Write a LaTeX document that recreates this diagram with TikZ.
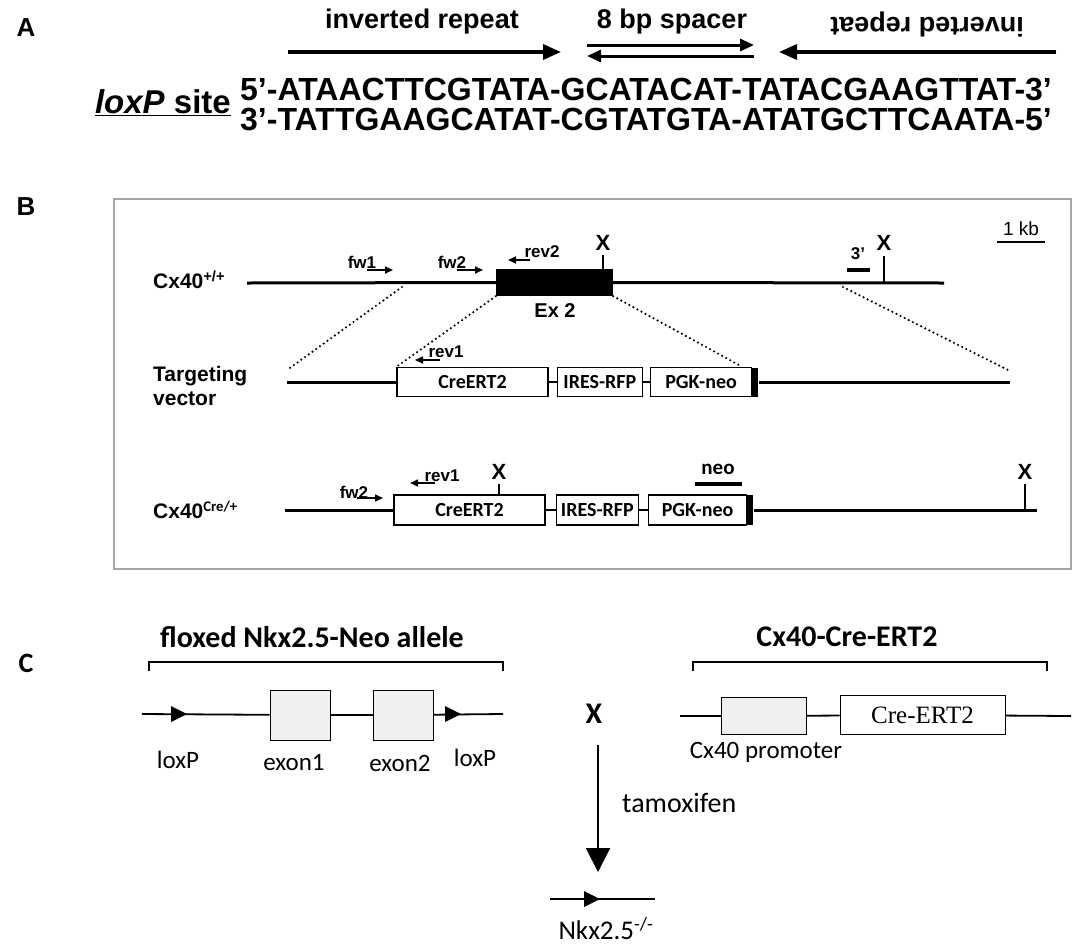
\documentclass[tikz,border=0pt]{standalone}
\usepackage{fontspec}
\setmainfont{Liberation Sans}
\newfontfamily\carl{Carlito}
\newfontfamily\tnr{Liberation Serif}
\usetikzlibrary{arrows.meta,positioning,calc}
\newcommand{\fs}[1]{\fontsize{#1}{#1}\selectfont}

\begin{document}
\begin{tikzpicture}[x=1pt,y=-1pt,
panel/.style={font=\fs{26}\bfseries,inner sep=0},
head/.style={font=\fs{27}\bfseries,inner sep=0},
seq/.style={font=\fs{32}\bfseries,anchor=base west,inner sep=0},
bigarr/.style={-{Triangle[length=18pt,width=15pt]},line width=3.5pt},
duo/.style={-{Triangle[length=14pt,width=12pt]},line width=3pt},
gene/.style={line width=3pt},
dots/.style={line width=2.4pt,line cap=round,dash pattern=on 0pt off 4.6pt},
pr/.style={font=\fs{17}\bfseries,inner sep=0},
prarr/.style={-{Triangle[length=8pt,width=7pt]},line width=1.6pt},
xm/.style={font=\fs{22}\bfseries,inner sep=0},
cut/.style={line width=1.2pt},
cas/.style={draw,line width=1.3pt,minimum height=29pt,inner sep=0,font=\carl\fs{20}\bfseries,fill=white},
lox/.style={fill=black,minimum width=6pt,minimum height=29pt,inner sep=0},
lbc/.style={font=\carl\fs{25},inner sep=0},
tc/.style={font=\carl\fs{30}\bfseries,inner sep=0},
ex/.style={draw,line width=1pt,fill=gray!12,minimum width=60pt,minimum height=50pt,inner sep=0},
brace/.style={line width=1.6pt},
thin/.style={line width=1.8pt}]
\useasboundingbox (0,0) rectangle (1091,951);

% A: loxP site
\node[panel](pa) at (26,28){A};
\node[head](ir1) at (422,22){inverted repeat};
\node[head](sp) at (672,22){8 bp spacer};
\node[head,rotate=180](ir2) at (927,24){inverted repeat};
\coordinate(a1) at (288,52);\coordinate(a2) at (561,52);
\coordinate(b1) at (587,45);\coordinate(b2) at (754,45);
\coordinate(c1) at (754,56);\coordinate(c2) at (587,56);
\coordinate(d1) at (1056,52);\coordinate(d2) at (779,52);
\draw[bigarr](a1)--(a2);\draw[bigarr](d1)--(d2);
\draw[duo](b1)--(b2);\draw[duo](c1)--(c2);
\node[seq](top) at (240,100){5’-ATAACTTCGTATA-GCATACAT-TATACGAAGTTAT-3’};
\node[seq](bot) at (240,130){3’-TATTGAAGCATAT-CGTATGTA-ATATGCTTCAATA-5’};
\node[font=\fs{33}\bfseries,anchor=base east,inner sep=0](site) at (231,113){\underline{\textit{loxP} site}};

% B: targeting
\node[panel](pb) at (26,207){B};
\draw[gray!70,line width=2pt](114,199) rectangle (1071,569);
\node[font=\fs{19},inner sep=0](kb) at (1021,229){1 kb};
\draw[line width=1.5pt](997,242)--(1045,242);
% wild type
\node[font=\fs{21}\bfseries,anchor=west,inner sep=0](wt) at (153,280){Cx40\textsuperscript{+/+}};
\coordinate(w0) at (247,283);\coordinate(w1) at (944,283);
\node[fill=black,minimum width=117pt,minimum height=27pt,inner sep=0](ex2) at (554.5,282.5){};
\node[font=\fs{20}\bfseries,inner sep=0](exl) at (555,311){Ex 2};
\draw[gene](w0)--(ex2.west);\draw[gene](ex2.east)--(w1);
\node[xm](x1) at (603,243){X};\draw[cut](603,255)--(603,269);
\node[xm](x2) at (884,243){X};\draw[cut](884,256)--(884,283);
\draw[line width=4pt](847,270)--(870,270);\node[pr](p3) at (858,254){3’};
\node[pr](fw1) at (362,262){fw1};\draw[prarr](367,270)--(393,270);
\node[pr](fw2) at (452,262){fw2};\draw[prarr](457,270)--(483,270);
\node[pr](rv2) at (542,252){rev2};\draw[prarr](530,260)--(508,260);
% targeting vector
\node[font=\fs{21}\bfseries,anchor=west,align=left,inner sep=0](tv) at (153,386){Targeting\\[3pt]vector};
\coordinate(t0) at (287,382);\coordinate(t1) at (1010,382);
\node[cas,minimum width=151pt](cre1) at (472.5,382){CreERT2};
\node[cas,minimum width=85pt,right=8pt of cre1](ires1){IRES-RFP};
\node[cas,minimum width=101pt,right=7pt of ires1](pgk1){PGK-neo};
\node[lox,right=0pt of pgk1](lx1){};
\draw[gene](t0)--(cre1);\draw[gene](lx1)--(t1);
\draw[thin](cre1)--(ires1);\draw[thin](ires1)--(pgk1);
\node[pr](rv1) at (446,352){rev1};\draw[prarr](440,360)--(415,360);
\coordinate(e0) at (402,287);\coordinate(e1) at (287,370);
\coordinate(f0) at (843,287);\coordinate(f1) at (1010,371);
\draw[dots](e0)--(e1);\draw[dots](f0)--(f1);
\draw[dots](ex2.south west)--(cre1.north west);
\draw[dots](ex2.south east)--($(pgk1.north east)+(-10,0)$);
% knock-in
\node[font=\fs{21}\bfseries,anchor=west,inner sep=0](ki) at (153,510){Cx40\textsuperscript{\carl Cre/+}};
\coordinate(k0) at (285,510);\coordinate(k1) at (1037,510);
\node[cas,minimum width=151pt,minimum height=30pt](cre2) at (469.5,510){CreERT2};
\node[cas,minimum width=82pt,minimum height=30pt,right=10pt of cre2](ires2){IRES-RFP};
\node[cas,minimum width=98pt,minimum height=30pt,right=9pt of ires2](pgk2){PGK-neo};
\node[lox,minimum height=30pt,right=0pt of pgk2](lx2){};
\draw[gene](k0)--(cre2);\draw[gene](lx2)--(k1);
\draw[thin](cre2)--(ires2);\draw[thin](ires2)--(pgk2);
\node[xm](x3) at (499,472){X};\draw[cut](499,484)--(499,495);
\node[xm](x4) at (1025,472){X};\draw[cut](1025,484)--(1025,510);
\draw[line width=4pt](695,484)--(742,484);\node[font=\carl\fs{21}\bfseries,inner sep=0](neo) at (718,469){neo};
\node[pr](fw3) at (354,492){fw2};\draw[prarr](357,498)--(383,498);
\node[pr](rv3) at (442,476){rev1};\draw[prarr](435,483)--(410,483);

% C: cross
\node[panel,font=\carl\fs{28}\bfseries](pc) at (26,663){C};
\node[tc](flox) at (312,637){floxed Nkx2.5-Neo allele};
\draw[brace](149,671)--(149,662)--(503,662)--(503,671);
\coordinate(g0) at (142,714);\coordinate(g1) at (503,714);
\node[ex](ex1) at (300,715){};\node[ex](exb) at (403,715){};
\draw[thin](g0)--(ex1);\draw[thin](ex1)--(exb);\draw[thin](exb)--(g1);
\fill(171,706)--(187,714)--(171,722)--cycle;\fill(445,706)--(461,714)--(445,722)--cycle;
\node[lbc](l1) at (178,760){loxP};\node[lbc](l2) at (294,763){exon1};
\node[lbc](l3) at (400,763){exon2};\node[lbc](l4) at (475,758){loxP};
\node[tc](crt) at (847,637){Cx40-Cre-ERT2};
\draw[brace](693,671)--(693,662)--(1047,662)--(1047,671);
\coordinate(h0) at (680,716);\coordinate(h1) at (1071,716);
\node[ex,minimum width=85pt,minimum height=37pt](prom) at (763.5,716){};
\node[draw,line width=1pt,fill=white,minimum width=165pt,minimum height=39pt,inner sep=0,font=\tnr\fs{25}](cre) at (922.5,715){Cre-ERT2};
\draw[thin](h0)--(prom);\draw[thin](prom)--(cre);\draw[thin](cre)--(h1);
\node[lbc](pl) at (766,752){Cx40 promoter};
\node[font=\carl\fs{30}\bfseries,inner sep=0](cross) at (594,714){X};
\coordinate(m0) at (598,745);\coordinate(m1) at (598,872);
\draw[-{Triangle[length=24pt,width=24pt]},line width=2pt](m0)--(m1);
\node[font=\carl\fs{28},anchor=west,inner sep=0](tam) at (622,803){tamoxifen};
\coordinate(n0) at (550,899);\coordinate(n1) at (655,899);
\draw[thin](n0)--(n1);\fill(584,891)--(600,899)--(584,907)--cycle;
\node[font=\carl\fs{27},inner sep=0](nkx) at (606,929){Nkx2.5\textsuperscript{-/-}};
\end{tikzpicture}
\end{document}
